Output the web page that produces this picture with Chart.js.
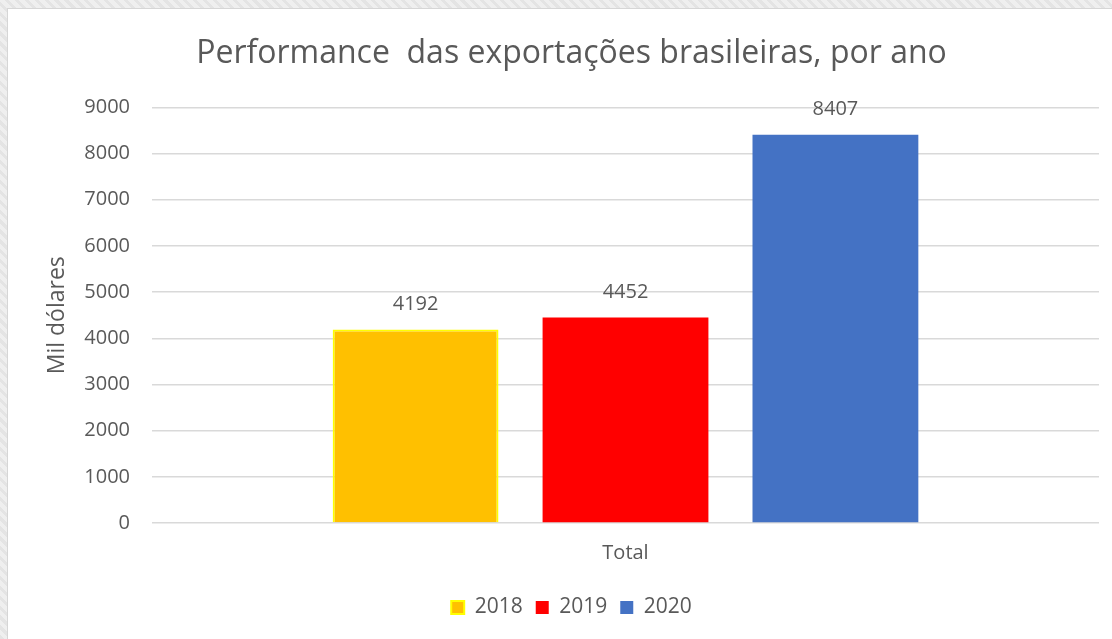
<!DOCTYPE html>
<html>
<head>
<meta charset="utf-8">
<script src="https://cdn.jsdelivr.net/npm/chart.js@4/dist/chart.umd.min.js"></script>
<style>
  html, body { margin: 0; padding: 0; }
  body {
    width: 1112px; height: 639px; overflow: hidden;
    background: #e9e9e9;
    background-image: repeating-linear-gradient(45deg, #e4e4e4 0 3px, #efefef 3px 7px);
    position: relative;
  }
  #box {
    position: absolute; left: 7px; top: 8px; width: 1105px; height: 631px; overflow: hidden;
    background: #fff; border-left: 1px solid #d6d6d6; border-top: 1px solid #d6d6d6;
  }
  #wrap { position: absolute; left: 0; top: 0; width: 1120px; height: 630px; }
</style>
</head>
<body>
<div id="box"><div id="wrap"><canvas id="chart"></canvas></div></div>
<script>
const categories = ["Total"];
const seriesNames = ["2018", "2019", "2020"];
const values2018 = [4192];
const values2019 = [4452];
const values2020 = [8407];
const yTicks = { min: 0, max: 9000, step: 1000 };

const FONT = "'Open Sans', 'Liberation Sans', sans-serif";
const GREY = "#595959";

// rótulos de valor acima das barras
const valueLabels = {
  id: "valueLabels",
  afterDatasetsDraw(chart) {
    const ctx = chart.ctx;
    ctx.save();
    ctx.font = "20px " + FONT;
    ctx.fillStyle = GREY;
    ctx.textAlign = "center";
    ctx.textBaseline = "bottom";
    chart.data.datasets.forEach((ds, i) => {
      chart.getDatasetMeta(i).data.forEach((bar, j) => {
        ctx.fillText(String(ds.data[j]), bar.x, bar.y - 15);
      });
    });
    ctx.restore();
  },
};

new Chart(document.getElementById("chart"), {
  type: "bar",
  data: {
    labels: categories,
    datasets: [
      { label: seriesNames[0], data: values2018, backgroundColor: "#FFC000", borderColor: "#FFFF00", borderWidth: 2 },
      { label: seriesNames[1], data: values2019, backgroundColor: "#FF0000", borderColor: "#FF0000", borderWidth: 0 },
      { label: seriesNames[2], data: values2020, backgroundColor: "#4472C4", borderColor: "#4472C4", borderWidth: 0 },
    ],
  },
  plugins: [valueLabels],
  options: {
    responsive: true,
    maintainAspectRatio: false,
    animation: false,
    categoryPercentage: 0.665,
    barPercentage: 0.79,
    layout: { padding: { left: 36, right: 29, top: 26, bottom: 11 } },
    scales: {
      x: {
        grid: { display: false },
        border: { display: false },
        ticks: { color: GREY, font: { family: FONT, size: 20 }, padding: 10 },
        afterFit: (scale) => { scale.height += 9; },
      },
      y: {
        min: yTicks.min,
        max: yTicks.max,
        grid: { color: "#d9d9d9", lineWidth: 1.5, drawTicks: false },
        border: { display: false },
        ticks: {
          stepSize: yTicks.step, color: GREY, font: { family: FONT, size: 20 }, padding: 22,
          callback: (v) => String(v),
        },
        title: { display: true, text: "Mil dólares", color: GREY, font: { family: FONT, size: 23 }, padding: 0 },
        afterFit: (scale) => { scale.width = 108; },
      },
    },
    plugins: {
      title: {
        display: true,
        text: "Performance  das exportações brasileiras, por ano",
        color: GREY,
        font: { family: FONT, size: 32, weight: "normal" },
        padding: { top: 0, bottom: 34 },
      },
      legend: {
        position: "bottom",
        labels: { color: GREY, font: { family: FONT, size: 21 }, boxWidth: 13, boxHeight: 13, padding: 13 },
      },
      tooltip: { enabled: false },
    },
  },
});
</script>
</body>
</html>
